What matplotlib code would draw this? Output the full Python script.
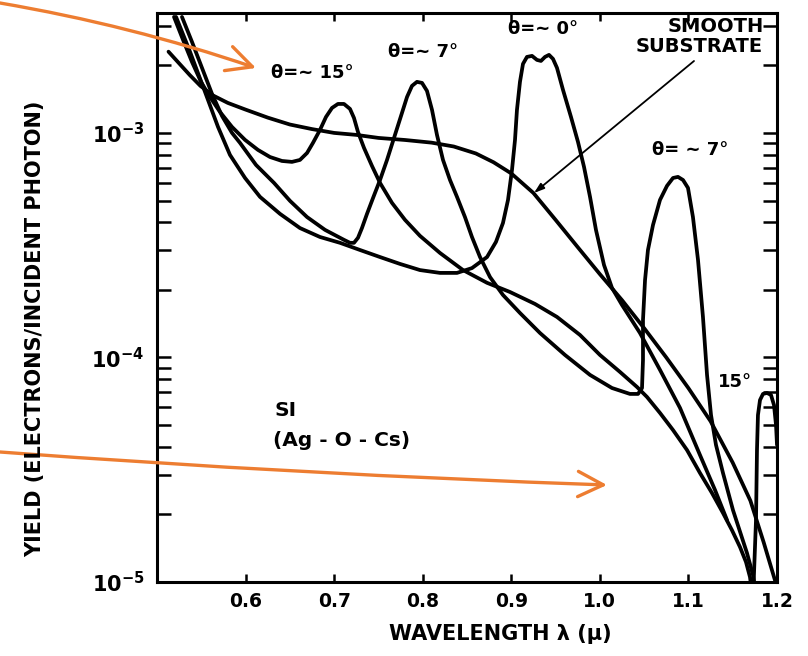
import matplotlib.pyplot as plt

# --- values (wavelength in microns, yield) ---
smooth_wl = [0.513, 0.525, 0.537, 0.549, 0.563, 0.58, 0.60, 0.625, 0.65, 0.675, 0.70,
             0.725, 0.75, 0.78, 0.81, 0.835, 0.86, 0.88, 0.90, 0.925, 0.95, 0.975, 1.0,
             1.025, 1.05, 1.075, 1.10, 1.125, 1.15, 1.17, 1.185, 1.2]
smooth_yield = [2.30e-3, 2.04e-3, 1.81e-3, 1.62e-3, 1.47e-3, 1.36e-3, 1.27e-3, 1.17e-3,
                1.09e-3, 1.04e-3, 1.0e-3, 9.8e-4, 9.5e-4, 9.3e-4, 9.05e-4, 8.7e-4,
                8.1e-4, 7.4e-4, 6.6e-4, 5.4e-4, 4.1e-4, 3.1e-4, 2.35e-4, 1.8e-4, 1.35e-4,
                1.0e-4, 7.3e-5, 5.2e-5, 3.4e-5, 2.3e-5, 1.5e-5, 9.5e-6]

deg0_wl = [0.5215, 0.5373, 0.5542, 0.5689, 0.5824, 0.5994, 0.6163, 0.6389, 0.6614,
           0.6840, 0.7066, 0.7292, 0.7518, 0.7743, 0.7969, 0.8195, 0.8387, 0.8556,
           0.8726, 0.8827, 0.8906, 0.8963, 0.9008, 0.9042, 0.9064, 0.9098, 0.9132,
           0.9177, 0.9234, 0.9290, 0.9335, 0.9381, 0.9426, 0.9471, 0.9516, 0.9584,
           0.9674, 0.9753, 0.9821, 0.9889, 0.9956, 1.0047, 1.0137, 1.0250, 1.0453,
           1.0679, 1.0905, 1.1130, 1.1300, 1.1435]
deg0_yield = [3.285e-3, 2.296e-3, 1.523e-3, 1.063e-3, 7.98e-4, 6.30e-4, 5.19e-4, 4.36e-4,
              3.77e-4, 3.44e-4, 3.24e-4, 3.01e-4, 2.80e-4, 2.61e-4, 2.45e-4, 2.38e-4,
              2.38e-4, 2.50e-4, 2.80e-4, 3.27e-4, 3.97e-4, 5.03e-4, 6.84e-4, 9.31e-4,
              1.266e-3, 1.688e-3, 2.029e-3, 2.180e-3, 2.203e-3, 2.114e-3, 2.092e-3,
              2.180e-3, 2.226e-3, 2.136e-3, 1.948e-3, 1.554e-3, 1.178e-3, 9.12e-4,
              7.06e-4, 5.19e-4, 3.70e-4, 2.58e-4, 2.04e-4, 1.713e-4, 1.285e-4, 8.80e-5,
              5.96e-5, 3.68e-5, 2.57e-5, 1.89e-5]

deg7_wl = [0.5282, 0.5395, 0.5508, 0.5621, 0.5734, 0.5847, 0.5937, 0.6118, 0.6321,
           0.6502, 0.6694, 0.6897, 0.7111, 0.7179, 0.7224, 0.7269, 0.7314, 0.7371,
           0.7439, 0.7518, 0.7597, 0.7676, 0.7755, 0.7823, 0.7879, 0.7935, 0.7992,
           0.8048, 0.8105, 0.8161, 0.8229, 0.8308, 0.8387, 0.8477, 0.8556, 0.8647,
           0.8760, 0.8906, 0.9098, 0.9324, 0.9606, 0.9889, 1.0137, 1.0340, 1.0431,
           1.0476, 1.0487, 1.0487, 1.0510, 1.0543, 1.0600, 1.0679, 1.0758, 1.0826,
           1.0882, 1.0939, 1.0995, 1.1051, 1.1108, 1.1164, 1.1210, 1.1255, 1.1311,
           1.1390, 1.1503, 1.1661, 1.1729, 1.1774]
deg7_yield = [3.285e-3, 2.543e-3, 1.948e-3, 1.492e-3, 1.190e-3, 1.000e-3, 9.03e-4,
              7.20e-4, 5.99e-4, 4.98e-4, 4.22e-4, 3.70e-4, 3.34e-4, 3.24e-4, 3.24e-4,
              3.41e-4, 3.77e-4, 4.36e-4, 5.13e-4, 6.17e-4, 7.58e-4, 9.50e-4, 1.190e-3,
              1.446e-3, 1.620e-3, 1.688e-3, 1.670e-3, 1.539e-3, 1.266e-3, 9.80e-4,
              7.58e-4, 6.17e-4, 5.19e-4, 4.22e-4, 3.44e-4, 2.80e-4, 2.28e-4, 1.898e-4,
              1.578e-4, 1.285e-4, 1.026e-4, 8.36e-5, 7.31e-5, 6.88e-5, 6.88e-5, 7.31e-5,
              9.75e-5, 1.469e-4, 2.21e-4, 3.01e-4, 3.89e-4, 5.03e-4, 5.81e-4, 6.30e-4,
              6.37e-4, 6.17e-4, 5.69e-4, 4.22e-4, 2.72e-4, 1.515e-4, 8.36e-5, 5.54e-5,
              4.08e-5, 3.06e-5, 2.09e-5, 1.346e-5, 1.074e-5, 8.31e-6]

deg15_wl = [0.5192, 0.5294, 0.5395, 0.5497, 0.5598, 0.5711, 0.5847, 0.5994, 0.6140,
            0.6276, 0.6411, 0.6524, 0.6614, 0.6694, 0.6761, 0.6840, 0.6908, 0.6976,
            0.7043, 0.7111, 0.7179, 0.7224, 0.7269, 0.7337, 0.7427, 0.7518, 0.7653,
            0.7800, 0.7969, 0.8195, 0.8455, 0.8726, 0.8985, 0.9268, 0.9516, 0.9776,
            1.0001, 1.0227, 1.0419, 1.0532, 1.0679, 1.0826, 1.0984, 1.1130, 1.1266,
            1.1390, 1.1492, 1.1582, 1.1650, 1.1695, 1.1729, 1.1763, 1.1774, 1.1785,
            1.1808, 1.1842, 1.1887, 1.1932, 1.1966, 1.1989, 1.2000]
deg15_yield = [3.285e-3, 2.596e-3, 2.071e-3, 1.688e-3, 1.446e-3, 1.240e-3, 1.063e-3,
               9.31e-4, 8.40e-4, 7.81e-4, 7.50e-4, 7.43e-4, 7.58e-4, 8.14e-4, 9.03e-4,
               1.031e-3, 1.178e-3, 1.292e-3, 1.346e-3, 1.346e-3, 1.279e-3, 1.166e-3,
               1.010e-3, 8.58e-4, 7.13e-4, 5.99e-4, 4.88e-4, 4.10e-4, 3.48e-4, 2.92e-4,
               2.45e-4, 2.15e-4, 1.957e-4, 1.731e-4, 1.515e-4, 1.259e-4, 1.026e-4,
               8.62e-5, 7.39e-5, 6.67e-5, 5.66e-5, 4.75e-5, 3.87e-5, 3.06e-5, 2.49e-5,
               2.03e-5, 1.70e-5, 1.432e-5, 1.227e-5, 1.052e-5, 8.31e-6, 1.89e-5, 3.87e-5,
               5.54e-5, 6.46e-5, 6.88e-5, 6.95e-5, 6.81e-5, 6.14e-5, 5.00e-5, 4.08e-5]

x_ticks = [0.6, 0.7, 0.8, 0.9, 1.0, 1.1, 1.2]
x_tick_labels = ['0.6', '0.7', '0.8', '0.9', '1.0', '1.1', '1.2']
y_ticks = [1e-5, 1e-4, 1e-3]
y_tick_labels = [r'$\mathbf{10}^{\mathbf{-5}}$', r'$\mathbf{10}^{\mathbf{-4}}$',
                 r'$\mathbf{10}^{\mathbf{-3}}$']

plt.rcParams['font.family'] = 'DejaVu Sans'
plt.rcParams['font.weight'] = 'bold'

W, H = 808, 656


def at(x, y):
    # pixel position in the 808x656 picture -> figure fraction
    return x / W, 1 - y / H


fig = plt.figure(figsize=(W / 100, H / 100), dpi=100)
ax = fig.add_axes([157 / W, 1 - 582 / H, 620 / W, 569 / H])

for wl, yl in [(smooth_wl, smooth_yield), (deg0_wl, deg0_yield),
               (deg7_wl, deg7_yield), (deg15_wl, deg15_yield)]:
    ax.plot(wl, yl, color='black', lw=2.7,
            solid_joinstyle='round', solid_capstyle='round')

ax.set_yscale('log')
ax.set_xlim(0.5, 1.2)
ax.set_ylim(1e-5, 3.42e-3)

ax.set_xticks(x_ticks)
ax.set_xticklabels(x_tick_labels, fontsize=13.5, fontweight='bold')
ax.set_yticks(y_ticks)
ax.set_yticklabels(y_tick_labels, fontsize=15)
ax.tick_params(axis='x', direction='in', top=True, length=6, width=1.8, pad=7)
ax.tick_params(axis='y', which='both', direction='in', left=True, right=True,
               length=10, width=1.8, pad=9)
for s in ax.spines.values():
    s.set_linewidth(2.2)

# labels
fig.text(*at(35, 329), 'YIELD (ELECTRONS/INCIDENT PHOTON)', rotation=90,
         ha='center', va='center', fontsize=15, fontweight='bold')
fig.text(*at(500, 634), 'WAVELENGTH λ (μ)', ha='center', va='center',
         fontsize=15, fontweight='bold')

fig.text(*at(312, 73), 'θ=~ 15°', ha='center', va='center', fontsize=13)
fig.text(*at(423, 52), 'θ=~ 7°', ha='center', va='center', fontsize=13)
fig.text(*at(543, 29), 'θ=~ 0°', ha='center', va='center', fontsize=13)
fig.text(*at(690, 150), 'θ= ~ 7°', ha='center', va='center', fontsize=13)
fig.text(*at(735, 382), '15°', ha='center', va='center', fontsize=13)
fig.text(*at(764, 27), 'SMOOTH', ha='right', va='center', fontsize=14)
fig.text(*at(763, 46), 'SUBSTRATE', ha='right', va='center', fontsize=14)
fig.text(*at(275, 410), 'SI', ha='left', va='center', fontsize=14.5)
fig.text(*at(273, 441), '(Ag - O - Cs)', ha='left', va='center', fontsize=14.5)

# pointer from the SMOOTH SUBSTRATE label to its curve
ax.annotate('', xy=at(534, 193), xytext=at(694, 61), xycoords='figure fraction',
            arrowprops=dict(arrowstyle='-|>,head_length=0.6,head_width=0.2',
                            color='black', lw=1.3, shrinkA=0, shrinkB=0))

# orange overlay arrows
orange = '#ED7D31'
ax.annotate('', xy=at(256, 68), xytext=at(0, 3), xycoords='figure fraction',
            annotation_clip=False, zorder=10,
            arrowprops=dict(arrowstyle='->,head_length=1.3,head_width=0.65',
                            mutation_scale=14, color=orange, lw=2.4,
                            shrinkA=0, shrinkB=0, connectionstyle='arc3,rad=-0.04'))
ax.annotate('', xy=at(607, 485), xytext=at(0, 452), xycoords='figure fraction',
            annotation_clip=False, zorder=10,
            arrowprops=dict(arrowstyle='->,head_length=1.3,head_width=0.65',
                            mutation_scale=14, color=orange, lw=2.4,
                            shrinkA=0, shrinkB=0, connectionstyle='arc3,rad=0.01'))

fig.savefig('out.png', dpi=100)
